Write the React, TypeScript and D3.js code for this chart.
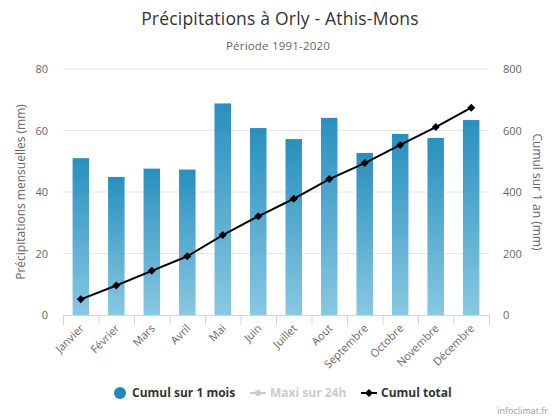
import * as d3 from "d3";

const months = ["Janvier", "Février", "Mars", "Avril", "Mai", "Juin", "Juillet", "Aout", "Septembre", "Octobre", "Novembre", "Décembre"];
const monthly = [51, 44.9, 47.6, 47.3, 68.8, 60.8, 57.2, 64.1, 52.7, 58.9, 57.6, 63.4];
const cumul = [51, 96, 143.5, 191, 260, 321, 378, 442, 494, 553, 611, 674];
const leftTicks = [0, 20, 40, 60, 80];
const rightTicks = [0, 200, 400, 600, 800];

const width = 552;
const height = 419;
const margin = { top: 69, right: 63, bottom: 104, left: 63 };
const font = "'Open Sans', 'DejaVu Sans', sans-serif";

export default function App() {
  const x = d3
    .scaleBand()
    .domain(months)
    .range([margin.left, width - margin.right])
    .paddingInner(0.535)
    .paddingOuter(0.27);
  const xTicks = d3
    .scaleBand()
    .domain(months)
    .range([margin.left, width - margin.right]);
  const yLeft = d3.scaleLinear().domain([0, 80]).range([height - margin.bottom, margin.top]);
  const yRight = d3.scaleLinear().domain([0, 800]).range([height - margin.bottom, margin.top]);

  const line = d3
    .line<number>()
    .x((_, i) => xTicks(months[i])! + xTicks.bandwidth() / 2)
    .y((d) => yRight(d));

  // highcharts-style diamond: square rotated 45°
  const diamond = "M0,-4L4,0L0,4L-4,0Z";
  const bottom = height - margin.bottom;

  return (
    <svg width={width} height={height} style={{ position: "absolute", left: 0, top: 0 }} fontFamily={font}>
      <defs>
        <linearGradient id="barGrad" x1="0" y1="0" x2="0" y2="1">
          <stop offset="0%" stopColor="#2890be" />
          <stop offset="100%" stopColor="#88c8e2" />
        </linearGradient>
      </defs>
      <rect width={width} height={height} fill="#fff" />
      <text x={280} y={25} textAnchor="middle" fontSize={17.5} letterSpacing={0.2} fill="#333">
        Précipitations à Orly - Athis-Mons
      </text>
      <text x={278} y={50} textAnchor="middle" fontSize={11.5} letterSpacing={0.2} fill="#666">
        Période 1991-2020
      </text>

      {leftTicks.map((t) => (
        <g key={t}>
          {t > 0 && (
            <line x1={margin.left} x2={width - margin.right} y1={yLeft(t)} y2={yLeft(t)} stroke="#e6e6e6" />
          )}
          <text x={48} y={yLeft(t) + 4} textAnchor="end" fontSize={11} fill="#666">
            {t}
          </text>
        </g>
      ))}
      {rightTicks.map((t) => (
        <text key={t} x={503} y={yRight(t) + 4} textAnchor="start" fontSize={11} fill="#666">
          {t}
        </text>
      ))}
      <text
        transform={`translate(25,${(margin.top + bottom) / 2}) rotate(-90)`}
        textAnchor="middle"
        fontSize={12}
        fill="#666"
      >
        Précipitations mensuelles (mm)
      </text>
      <text
        transform={`translate(533,${(margin.top + bottom) / 2}) rotate(90)`}
        textAnchor="middle"
        fontSize={12}
        fill="#666"
      >
        Cumul sur 1 an (mm)
      </text>

      {monthly.map((v, i) => (
        <rect
          key={months[i]}
          x={x(months[i])}
          y={yLeft(v)}
          width={x.bandwidth()}
          height={bottom - yLeft(v)}
          fill="url(#barGrad)"
        />
      ))}

      <line x1={margin.left} x2={width - margin.right} y1={bottom + 0.5} y2={bottom + 0.5} stroke="#ccd6eb" />
      {months.map((m) => (
        <line key={m} x1={xTicks(m)! + 0.5} x2={xTicks(m)! + 0.5} y1={bottom} y2={bottom + 10} stroke="#ccd6eb" />
      ))}
      <line
        x1={width - margin.right + 0.5}
        x2={width - margin.right + 0.5}
        y1={bottom}
        y2={bottom + 10}
        stroke="#ccd6eb"
      />
      {months.map((m) => (
        <text
          key={m}
          transform={`translate(${xTicks(m)! + xTicks.bandwidth() / 2 + 4},${bottom + 14}) rotate(-45)`}
          textAnchor="end"
          fontSize={11}
          fill="#666"
        >
          {m}
        </text>
      ))}

      <path d={line(cumul)!} fill="none" stroke="#000" strokeWidth={2} />
      {cumul.map((v, i) => (
        <path
          key={i}
          d={diamond}
          transform={`translate(${xTicks(months[i])! + xTicks.bandwidth() / 2},${yRight(v)})`}
          fill="#000"
        />
      ))}

      <g fontSize={12} fontWeight="bold">
        <circle cx={120} cy={393} r={6} fill="#2088bd" />
        <text x={132} y={397} fill="#333">
          Cumul sur 1 mois
        </text>
        <line x1={250} x2={266} y1={393} y2={393} stroke="#ccc" strokeWidth={2} />
        <circle cx={258} cy={393} r={3} fill="#ccc" />
        <text x={270} y={397} fill="#ccc">
          Maxi sur 24h
        </text>
        <line x1={361} x2={377} y1={393} y2={393} stroke="#000" strokeWidth={2} />
        <path d={diamond} transform="translate(369,393)" fill="#000" />
        <text x={381} y={397} fill="#333">
          Cumul total
        </text>
      </g>
      <text x={548} y={414} textAnchor="end" fontSize={9} fill="#999">
        infoclimat.fr
      </text>
    </svg>
  );
}
